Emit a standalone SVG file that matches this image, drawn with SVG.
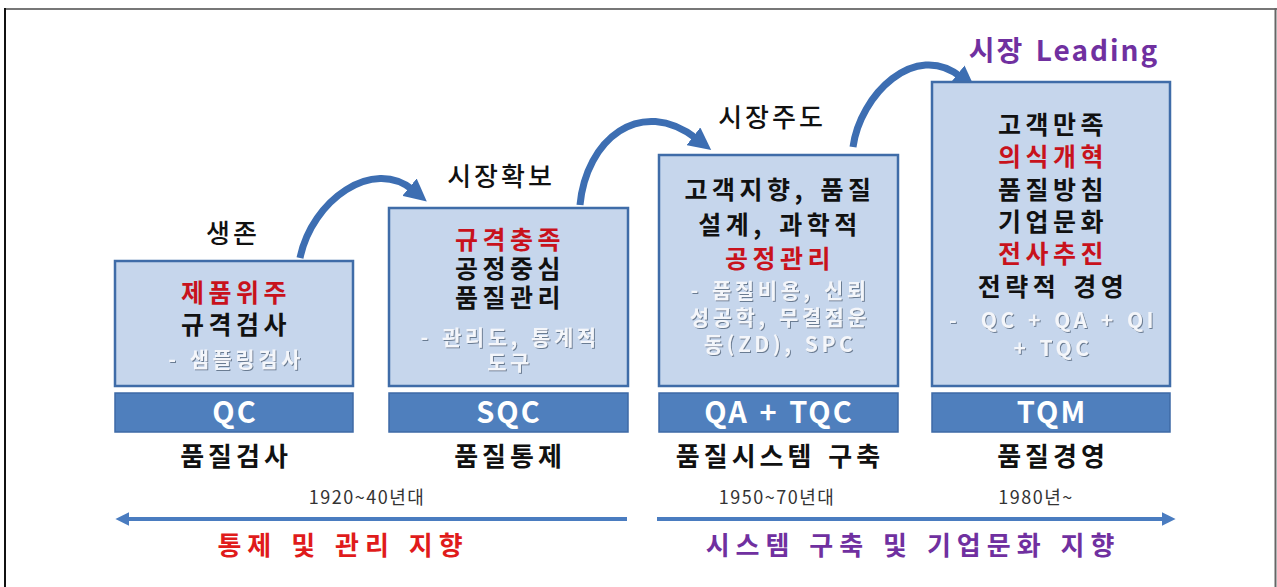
<svg xmlns="http://www.w3.org/2000/svg" width="1277" height="587" viewBox="0 0 1277 587">
<style>
.box{fill:#c6d6ec;stroke:#3f6ca8;stroke-width:2.5}
.bar{fill:#4f7fbd;stroke:#3e6aa6;stroke-width:1.5}
.t{font-family:"Noto Sans CJK KR","Liberation Sans",sans-serif;text-anchor:middle}
.main{font-size:25px;font-weight:700;fill:#111;letter-spacing:4.5px;word-spacing:3px}
.red{fill:#c8121c}
.sub{font-size:21px;font-weight:700;fill:#f4f6fa;filter:url(#sh);letter-spacing:3.5px;word-spacing:2px}
.barT{font-size:29px;font-weight:700;fill:#fff;letter-spacing:2px;word-spacing:2px}
.under{font-size:26px;font-weight:700;fill:#111;letter-spacing:4px;word-spacing:3px}
.head{font-size:26px;font-weight:500;fill:#111;letter-spacing:3px}
.date{font-size:18px;fill:#333;letter-spacing:1.5px}
.big{font-size:26px;font-weight:700;letter-spacing:6px;word-spacing:2px}
.curve{fill:none;stroke:#3d6eb2;stroke-width:7;marker-end:url(#ah)}
.line{fill:none;stroke:#4a7cc0;stroke-width:4}
</style>
<defs>
<filter id="sh" x="-10%" y="-30%" width="130%" height="160%">
<feDropShadow dx="1" dy="1" stdDeviation="0.7" flood-color="#6b7b92"/>
</filter>
<marker id="ah" viewBox="0 0 10 10" refX="2" refY="5" markerWidth="3.2" markerHeight="3.2" orient="auto">
<path d="M0,0 L10,5 L0,10 z" fill="#3d6eb2"/>
</marker>
<marker id="lh" viewBox="0 0 10 10" refX="1" refY="5" markerWidth="3.5" markerHeight="3.5" orient="auto">
<path d="M0,0 L10,5 L0,10 z" fill="#4a7cc0"/>
</marker>
</defs>
<rect width="1277" height="587" fill="#fff"/>
<g id="frame">
<line x1="4" y1="9" x2="1277" y2="9" stroke="#777" stroke-width="2"/>
<line x1="5" y1="8" x2="5" y2="587" stroke="#111" stroke-width="2"/>
<line x1="1275.5" y1="8" x2="1275.5" y2="587" stroke="#666" stroke-width="2"/>
</g>
<g id="connectors">
<path class="curve" d="M300,258 C312,200 373,157 413,190"/>
<path class="curve" d="M580,205 C586,140 640,95 697,139"/>
<path class="curve" d="M853,147 C860,95 915,40 961,77"/>
<path class="line" d="M627,519 L128,519" marker-end="url(#lh)"/>
<path class="line" d="M657,519 L1163,519" marker-end="url(#lh)"/>
</g>
<g id="node-qc">
<text class="t head" x="233" y="243">생존</text>
<rect class="box" x="115" y="261" width="238" height="125"/>
<text class="t main red" x="236" y="302">제품위주</text>
<text class="t main" x="236" y="334">규격검사</text>
<text class="t sub" x="236" y="367">- 샘플링검사</text>
<rect class="bar" x="115" y="393" width="238" height="39"/>
<text class="t barT" x="235" y="423">QC</text>
<text class="t under" x="236" y="466">품질검사</text>
</g>
<g id="node-sqc">
<text class="t head" x="501" y="186">시장확보</text>
<rect class="box" x="389" y="208" width="239" height="178"/>
<text class="t main red" x="510" y="249">규격충족</text>
<text class="t main" x="510" y="278">공정중심</text>
<text class="t main" x="510" y="307">품질관리</text>
<text class="t sub" x="510" y="345">- 관리도, 통계적</text>
<text class="t sub" x="510" y="370">도구</text>
<rect class="bar" x="389" y="393" width="239" height="39"/>
<text class="t barT" x="509" y="423">SQC</text>
<text class="t under" x="510" y="466">품질통제</text>
</g>
<g id="node-qa">
<text class="t head" x="772" y="127">시장주도</text>
<rect class="box" x="659" y="155" width="239" height="231"/>
<text class="t main" x="780" y="199">고객지향, 품질</text>
<text class="t main" x="780" y="234">설계, 과학적</text>
<text class="t main red" x="780" y="268">공정관리</text>
<text class="t sub" x="780" y="298">- 품질비용, 신뢰</text>
<text class="t sub" x="780" y="325">성공학, 무결점운</text>
<text class="t sub" x="780" y="352">동(ZD), SPC</text>
<rect class="bar" x="659" y="393" width="239" height="39"/>
<text class="t barT" x="779" y="423">QA + TQC</text>
<text class="t under" x="780" y="466">품질시스템 구축</text>
</g>
<g id="node-tqm">
<text class="t" x="1064" y="61" font-size="28" font-weight="700" fill="#7030a0" letter-spacing="2" word-spacing="3">시장 Leading</text>
<rect class="box" x="932" y="82" width="238" height="304"/>
<text class="t main" x="1053" y="134">고객만족</text>
<text class="t main red" x="1053" y="166">의식개혁</text>
<text class="t main" x="1053" y="199">품질방침</text>
<text class="t main" x="1053" y="231">기업문화</text>
<text class="t main red" x="1053" y="263">전사추진</text>
<text class="t main" x="1053" y="296">전략적 경영</text>
<text class="t sub" x="1053" y="328" xml:space="preserve">-  QC + QA + QI</text>
<text class="t sub" x="1053" y="356">+ TQC</text>
<rect class="bar" x="932" y="393" width="238" height="39"/>
<text class="t barT" x="1052" y="423">TQM</text>
<text class="t under" x="1053" y="466">품질경영</text>
</g>
<g id="timeline">
<text class="t date" x="367" y="504">1920~40년대</text>
<text class="t date" x="777" y="504">1950~70년대</text>
<text class="t date" x="1036" y="504">1980년~</text>
<text class="t big" x="343" y="555" fill="#e01b1b">통제 및 관리 지향</text>
<text class="t big" x="913" y="555" fill="#7030a0">시스템 구축 및 기업문화 지향</text>
</g>
</svg>
